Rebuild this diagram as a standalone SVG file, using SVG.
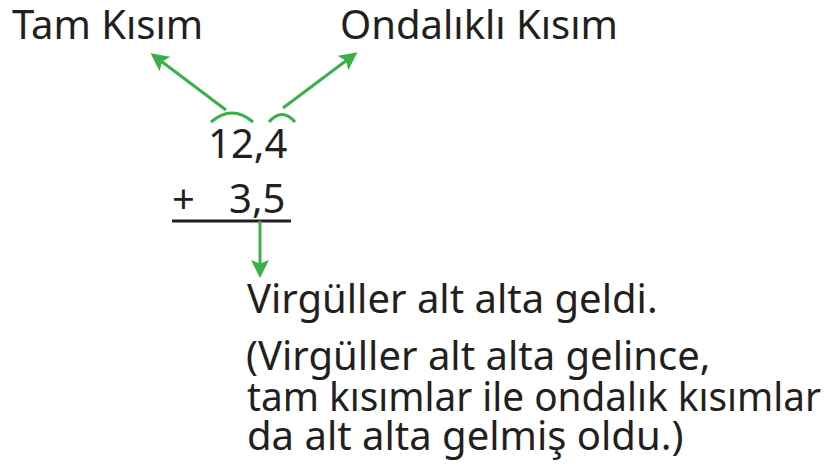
<svg xmlns="http://www.w3.org/2000/svg" width="832" height="465" viewBox="0 0 832 465">
<style>
text{font-family:"Noto Sans","Open Sans",sans-serif;fill:#231f20;font-size:40px}
.g{stroke:#3bb04a;stroke-width:3;fill:none}
</style>
<defs>
<marker id="ah" markerWidth="6" markerHeight="6" refX="5" refY="3" orient="auto" markerUnits="strokeWidth"><path d="M0,0 L6,3 L0,6 L1.2,3 z" fill="#3bb04a"/></marker>
</defs>
<g id="tam"><text x="12" y="39">Tam Kısım</text></g>
<g id="ondalikli"><text x="340" y="39">Ondalıklı Kısım</text></g>
<g id="sayi1"><text x="208" y="158">12,4</text></g>
<g id="sayi2"><text x="172" y="213">+</text><text x="229" y="213">3,5</text><line x1="172" y1="221" x2="291" y2="221" stroke="#231f20" stroke-width="3"/></g>
<g id="aciklama">
<text x="247" y="313">Virgüller alt alta geldi.</text>
<text x="246" y="370">(Virgüller alt alta gelince,</text>
<text x="247" y="411" textLength="574" lengthAdjust="spacingAndGlyphs">tam kısımlar ile ondalık kısımlar</text>
<text x="247" y="450">da alt alta gelmiş oldu.)</text>
</g>
<g id="connectors">
<path class="g" d="M211,122 Q232,104 253,122"/>
<path class="g" d="M269,122 Q282,107 295,122"/>
<line class="g" x1="226" y1="110" x2="153" y2="55" marker-end="url(#ah)"/>
<line class="g" x1="283" y1="108" x2="355" y2="54" marker-end="url(#ah)"/>
<line class="g" x1="260" y1="221" x2="260" y2="275" marker-end="url(#ah)"/>
</g>
</svg>
